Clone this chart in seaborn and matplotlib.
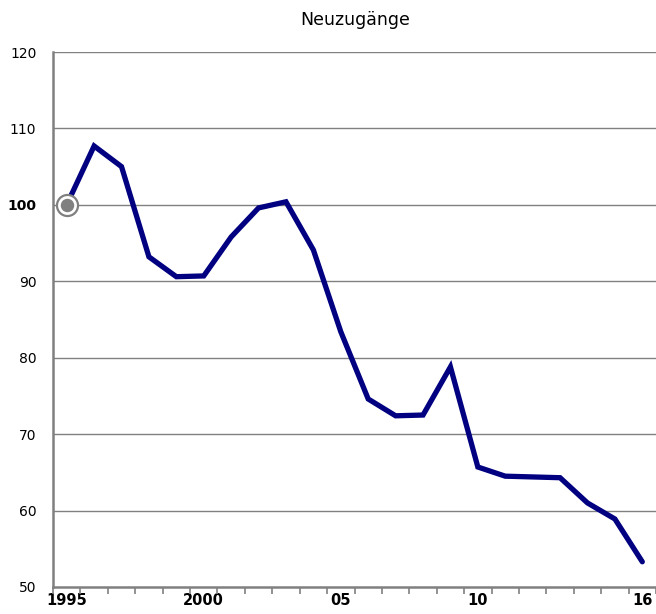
import numpy as np
import pandas as pd
import matplotlib
matplotlib.use("Agg")
import matplotlib.pyplot as plt
import seaborn as sns

# Index values (1995 = 100)
years = list(range(1995, 2017))
values = [100.0, 107.7, 105.0, 93.2, 90.6, 90.7, 95.8, 99.6, 100.4, 94.1, 83.4,
          74.6, 72.4, 72.5, 78.8, 65.7, 64.5, 64.4, 64.3, 61.0, 58.9, 53.3]
label_years = [1995, 2000, 2005, 2010, 2016]
label_texts = ["1995", "2000", "05", "10", "16"]
y_ticks = [50, 60, 70, 80, 90, 100, 110, 120]

df = pd.DataFrame({"year": years, "value": values})

sns.set_style("white")
plt.rcParams['font.family'] = ['DejaVu Sans']
plt.rcParams['text.color'] = 'black'

fig = plt.figure(figsize=(6.56, 6.14), dpi=100)
ax = fig.add_axes([53 / 656, 27 / 614, 1 - 53 / 656, 535 / 614])

grey = "#808080"
for y in y_ticks[1:]:
    ax.axhline(y, color=grey, lw=1.0, zorder=1)

sns.lineplot(data=df, x="year", y="value", color="#000080", lw=3.8,
             ax=ax, zorder=3, solid_joinstyle="miter")

# start marker for the base year
ax.scatter([years[0]], [values[0]], s=230, facecolor="white", edgecolor=grey,
           linewidth=1.6, zorder=4)
ax.scatter([years[0]], [values[0]], s=75, color=grey, zorder=5)

ax.set_xlim(1994.5, 2016.5)
ax.set_ylim(50, 120)

ax.set_xticks(label_years)
ax.set_xticklabels(label_texts, fontweight="bold", fontsize=10.5)
ax.set_xticks(np.arange(1994.5, 2017, 1.0), minor=True)
ax.tick_params(axis="x", which="major", length=0, pad=4, labelcolor="black")
ax.tick_params(axis="x", which="minor", length=5, width=1.2, color=grey,
               direction="out", bottom=True)

ax.set_yticks(y_ticks)
ax.set_yticklabels([str(v) for v in y_ticks], fontsize=10)
for lab in ax.get_yticklabels():
    if lab.get_text() == "100":
        lab.set_fontweight("bold")
ax.tick_params(axis="y", length=0, pad=12, labelcolor="black")

for side in ["top", "right"]:
    ax.spines[side].set_visible(False)
for side in ["left", "bottom"]:
    ax.spines[side].set_color(grey)
    ax.spines[side].set_linewidth(1.8)

ax.set_xlabel("")
ax.set_ylabel("")
fig.text(355 / 656, 1 - 20 / 614, "Neuzugänge", ha="center", va="center",
         fontsize=12.5, color="black")

fig.savefig("out.png", dpi=100)
